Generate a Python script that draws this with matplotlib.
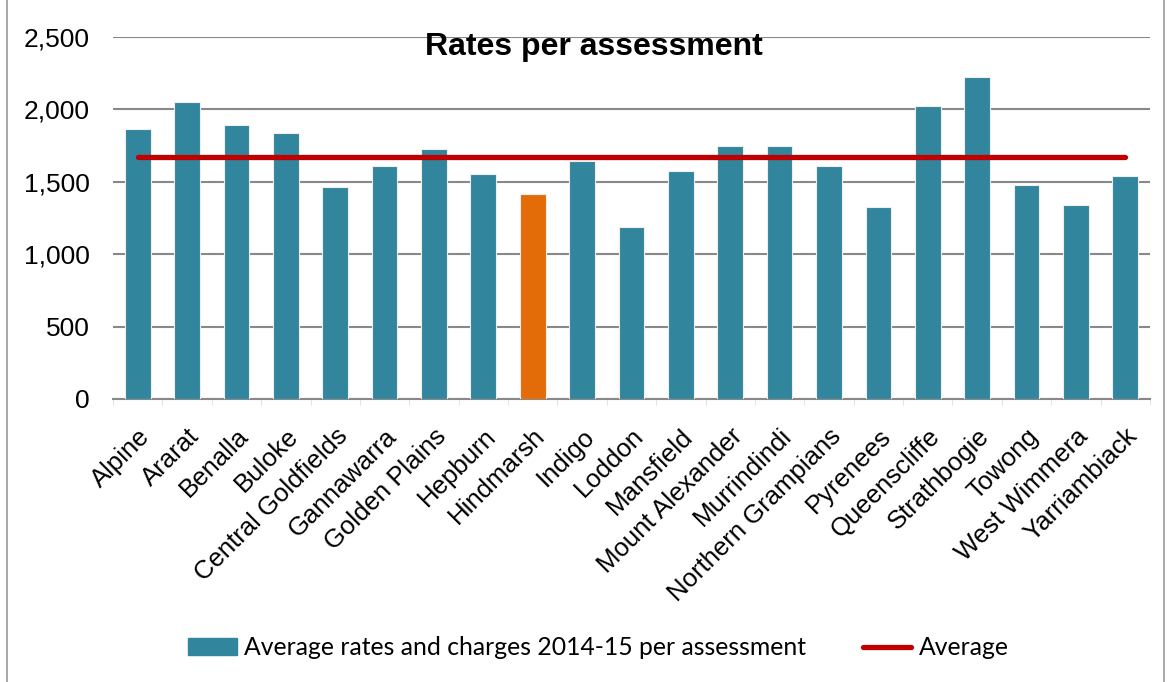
import numpy as np
import matplotlib.pyplot as plt
from matplotlib.lines import Line2D
from matplotlib.patches import Patch, Rectangle


COUNCILS = ["Alpine", "Ararat", "Benalla", "Buloke", "Central Goldfields", "Gannawarra",
            "Golden Plains", "Hepburn", "Hindmarsh", "Indigo", "Loddon", "Mansfield",
            "Mount Alexander", "Murrindindi", "Northern Grampians", "Pyrenees",
            "Queenscliffe", "Strathbogie", "Towong", "West Wimmera", "Yarriambiack"]
RATES = [1867, 2053, 1890, 1839, 1464, 1611, 1724, 1554, 1418, 1641, 1186, 1575,
         1747, 1747, 1607, 1328, 2021, 2226, 1478, 1337, 1540]
AVERAGE = 1670
HIGHLIGHT = "Hindmarsh"
Y_TICKS = [0, 500, 1000, 1500, 2000, 2500]

TEAL = "#31859C"
ORANGE = "#E36C09"
RED = "#C00000"
GRID = "#888888"

plt.rcParams["font.family"] = ["Liberation Sans", "DejaVu Sans"]

fig = plt.figure(figsize=(11.71, 6.82), dpi=100)
ax = fig.add_axes([0.0965, 0.415, 0.8855, 0.5307])

x = np.arange(len(COUNCILS))
colors = [ORANGE if c == HIGHLIGHT else TEAL for c in COUNCILS]
ax.bar(x, RATES, width=0.52, color=colors, edgecolor="#eeeeee", linewidth=0.8, zorder=3)
ax.plot([x[0], x[-1]], [AVERAGE, AVERAGE], color=RED, lw=3.8,
        solid_capstyle="round", zorder=4)

ax.set_xlim(-0.5, len(COUNCILS) - 0.5)
ax.set_ylim(0, 2500)
ax.set_yticks(Y_TICKS)
ax.set_yticklabels([f"{v:,}" for v in Y_TICKS], fontsize=19)
ax.yaxis.grid(True, color=GRID, lw=1.5, zorder=0)
ax.tick_params(axis="y", length=0, pad=17)

ax.set_xticks(x)
ax.set_xticklabels(COUNCILS, rotation=45, ha="right", rotation_mode="anchor", fontsize=18.5)
ax.tick_params(axis="x", length=0, pad=18)
ax.set_xticks(np.arange(-0.5, len(COUNCILS)), minor=True)
ax.tick_params(axis="x", which="minor", length=4, color="#dddddd")

for s in ["left", "right", "top"]:
    ax.spines[s].set_visible(False)
ax.spines["bottom"].set_color(GRID)
ax.spines["bottom"].set_linewidth(1.5)

fig.text(0.507, 0.931, "Rates per assessment", ha="center", va="center",
         fontsize=23, fontweight="bold")

handles = [Patch(color=TEAL), Line2D([], [], color=RED, lw=3.8, solid_capstyle="round")]
labels = ["Average rates and charges 2014-15 per assessment", "Average"]
fig.legend(handles, labels, loc="center", bbox_to_anchor=(0.511, 0.05), ncol=2,
           frameon=False, prop={"family": "Lato", "size": 17.8},
           handlelength=1.95, handletextpad=0.3, columnspacing=2.3)

fig.patches.append(Rectangle((0.006, -0.01), 0.988, 1.02, transform=fig.transFigure,
                             fill=False, edgecolor="#999999", lw=1.2))

fig.savefig("out.png", dpi=100)
